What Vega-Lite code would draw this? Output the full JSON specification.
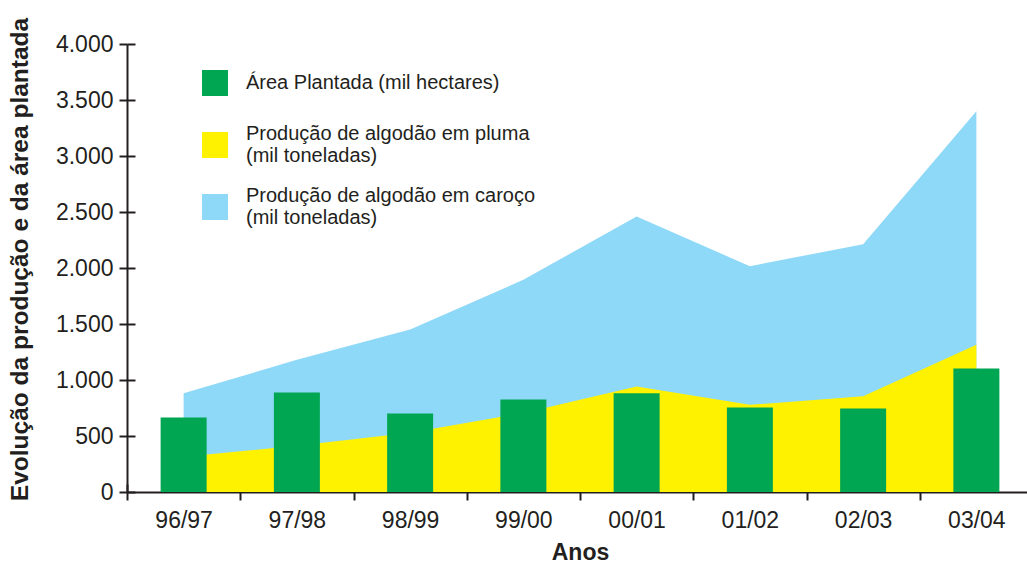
{
  "$schema": "https://vega.github.io/schema/vega-lite/v6.json",
  "autosize": "none",
  "padding": {"left": 127, "top": 44, "right": 0, "bottom": 72},
  "width": 900,
  "height": 448,
  "background": "white",
  "config": {
    "font": "Liberation Sans",
    "view": {"stroke": null},
    "axis": {
      "domainColor": "#231f20",
      "domainWidth": 2,
      "tickColor": "#231f20",
      "tickWidth": 2,
      "tickSize": 8,
      "labelColor": "#231f20",
      "labelFontSize": 23,
      "labelFont": "Liberation Sans",
      "titleColor": "#231f20",
      "titleFontSize": 24.5,
      "titleFontWeight": "bold",
      "grid": false
    },
    "legend": {
      "labelFontSize": 20,
      "labelColor": "#231f20",
      "labelFont": "Liberation Sans",
      "symbolType": "square",
      "symbolSize": 676,
      "symbolStrokeWidth": 0,
      "symbolOpacity": 1,
      "labelOffset": 18,
      "labelLimit": 400,
      "padding": 0
    }
  },
  "data": {
    "values": [
      {"ano": "96/97", "serie": "Produção de algodão em caroço (mil toneladas)", "valor": 882},
      {"ano": "97/98", "serie": "Produção de algodão em caroço (mil toneladas)", "valor": 1180},
      {"ano": "98/99", "serie": "Produção de algodão em caroço (mil toneladas)", "valor": 1451},
      {"ano": "99/00", "serie": "Produção de algodão em caroço (mil toneladas)", "valor": 1895},
      {"ano": "00/01", "serie": "Produção de algodão em caroço (mil toneladas)", "valor": 2460},
      {"ano": "01/02", "serie": "Produção de algodão em caroço (mil toneladas)", "valor": 2016},
      {"ano": "02/03", "serie": "Produção de algodão em caroço (mil toneladas)", "valor": 2213},
      {"ano": "03/04", "serie": "Produção de algodão em caroço (mil toneladas)", "valor": 3400},
      {"ano": "96/97", "serie": "Produção de algodão em pluma (mil toneladas)", "valor": 315},
      {"ano": "97/98", "serie": "Produção de algodão em pluma (mil toneladas)", "valor": 412},
      {"ano": "98/99", "serie": "Produção de algodão em pluma (mil toneladas)", "valor": 530},
      {"ano": "99/00", "serie": "Produção de algodão em pluma (mil toneladas)", "valor": 705},
      {"ano": "00/01", "serie": "Produção de algodão em pluma (mil toneladas)", "valor": 942},
      {"ano": "01/02", "serie": "Produção de algodão em pluma (mil toneladas)", "valor": 778},
      {"ano": "02/03", "serie": "Produção de algodão em pluma (mil toneladas)", "valor": 855},
      {"ano": "03/04", "serie": "Produção de algodão em pluma (mil toneladas)", "valor": 1314},
      {"ano": "96/97", "serie": "Área Plantada (mil hectares)", "valor": 665},
      {"ano": "97/98", "serie": "Área Plantada (mil hectares)", "valor": 888},
      {"ano": "98/99", "serie": "Área Plantada (mil hectares)", "valor": 701},
      {"ano": "99/00", "serie": "Área Plantada (mil hectares)", "valor": 826},
      {"ano": "00/01", "serie": "Área Plantada (mil hectares)", "valor": 882},
      {"ano": "01/02", "serie": "Área Plantada (mil hectares)", "valor": 754},
      {"ano": "02/03", "serie": "Área Plantada (mil hectares)", "valor": 746},
      {"ano": "03/04", "serie": "Área Plantada (mil hectares)", "valor": 1103}
    ]
  },
  "layer": [
    {
      "encoding": {
        "x": {
          "field": "ano",
          "type": "ordinal",
          "sort": ["96/97", "97/98", "98/99", "99/00", "00/01", "01/02", "02/03", "03/04"],
          "scale": {"type": "band", "paddingInner": 0, "paddingOuter": 0, "range": [0, 906]},
          "axis": {
            "orient": "bottom",
            "title": "Anos",
            "labelAngle": 0,
            "tickBand": "extent",
            "labelPadding": 9,
            "titleFontSize": 23,
            "titleY": 67.5,
            "titleBaseline": "alphabetic"
          }
        },
        "y": {
          "field": "valor",
          "type": "quantitative",
          "stack": null,
          "scale": {"domain": [0, 4000], "nice": false},
          "axis": {
            "orient": "left",
            "title": "Evolução da produção e da área plantada",
            "values": [0, 500, 1000, 1500, 2000, 2500, 3000, 3500, 4000],
            "labelExpr": "replace(format(datum.value, ','), ',', '.')",
            "labelPadding": 6,
            "titleX": -100,
            "titleY": 215,
            "titleBaseline": "alphabetic"
          }
        }
      },
      "layer": [
        {
          "transform": [{"filter": "datum.serie == 'Produção de algodão em caroço (mil toneladas)'"}],
          "mark": {"type": "area", "opacity": 1, "interpolate": "linear"},
          "encoding": {
            "color": {
              "field": "serie",
              "type": "nominal",
              "scale": {
                "domain": ["Produção de algodão em pluma (mil toneladas)", "Produção de algodão em caroço (mil toneladas)"],
                "range": ["#FFF200", "#8ED8F8"]
              },
              "legend": {
                "title": null,
                "orient": "none",
                "legendX": 75,
                "legendY": 88,
                "rowPadding": 20,
                "labelBaseline": "line-bottom",
                "labelExpr": "[replace(datum.label, ' (mil toneladas)', ''), '(mil toneladas)']"
              }
            }
          }
        },
        {
          "transform": [{"filter": "datum.serie == 'Produção de algodão em pluma (mil toneladas)'"}],
          "mark": {"type": "area", "opacity": 1, "interpolate": "linear"},
          "encoding": {
            "color": {"field": "serie", "type": "nominal"}
          }
        },
        {
          "transform": [{"filter": "datum.serie == 'Área Plantada (mil hectares)'"}],
          "mark": {"type": "bar", "width": 46},
          "encoding": {
            "fill": {
              "field": "serie",
              "type": "nominal",
              "scale": {"domain": ["Área Plantada (mil hectares)"], "range": ["#00A651"]},
              "legend": {
                "title": null,
                "orient": "none",
                "legendX": 75,
                "legendY": 26
              }
            }
          }
        }
      ]
    },
    {
      "transform": [{"filter": "datum.serie == 'Área Plantada (mil hectares)'"}],
      "mark": {"type": "bar", "width": 46, "opacity": 0},
      "encoding": {
        "x": {
          "field": "ano",
          "type": "ordinal",
          "sort": ["96/97", "97/98", "98/99", "99/00", "00/01", "01/02", "02/03", "03/04"],
          "scale": {"type": "band", "paddingInner": 0, "paddingOuter": 0, "range": [0, 906]},
          "axis": {
            "orient": "bottom",
            "title": null,
            "labels": false,
            "domain": false,
            "tickBand": "extent",
            "tickSize": -8
          }
        },
        "y": {
          "field": "valor",
          "type": "quantitative",
          "stack": null,
          "scale": {"domain": [0, 4000], "nice": false},
          "axis": {
            "orient": "left",
            "title": null,
            "labels": false,
            "domain": false,
            "values": [0, 500, 1000, 1500, 2000, 2500, 3000, 3500, 4000],
            "tickSize": -8
          }
        }
      }
    }
  ],
  "resolve": {"axis": {"x": "independent", "y": "independent"}}
}
